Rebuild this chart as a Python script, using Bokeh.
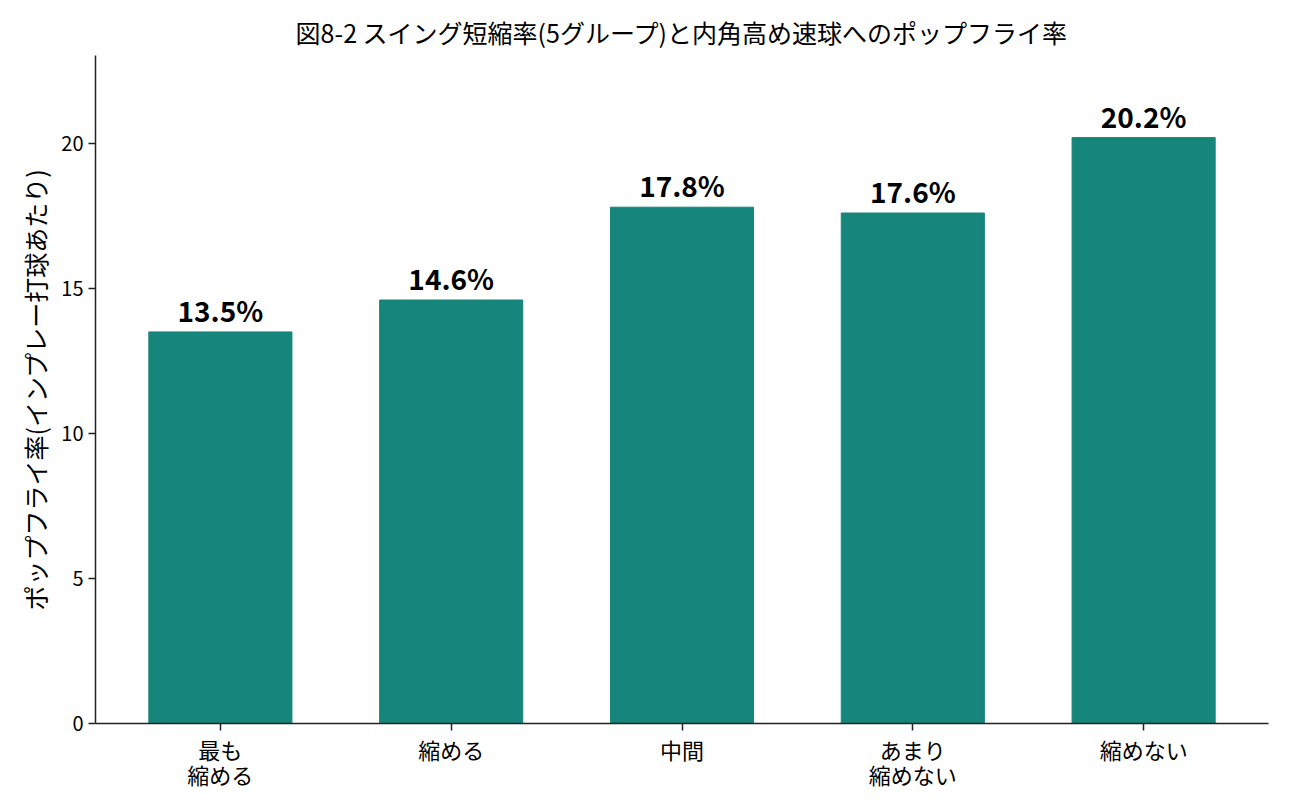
from bokeh.plotting import figure
from bokeh.models import ColumnDataSource, FixedTicker, Range1d
from bokeh.embed import file_html
from bokeh.resources import INLINE
from bokeh.core.properties import value

categories = ["最も\n縮める", "縮める", "中間", "あまり\n縮めない", "縮めない"]
popfly_rate = [13.5, 14.6, 17.8, 17.6, 20.2]
y_ticks = [0, 5, 10, 15, 20]

FONT = "Noto Sans CJK JP"
xs = list(range(len(categories)))
labels = [f"{v:.1f}%" for v in popfly_rate]
src = ColumnDataSource(dict(x=xs, top=popfly_rate, label=labels))

W, H = 1280, 800
p = figure(width=W, height=H, output_backend="svg", toolbar_location=None,
           x_range=Range1d(-0.541, 4.541), y_range=Range1d(0, 23.03),
           min_border_left=95, min_border_right=W - 1268,
           min_border_top=55, min_border_bottom=H - 723)

p.vbar(x="x", top="top", bottom=0, width=0.62, source=src, color="#16857B")
p.text(x="x", y="top", text="label", source=src, text_align="center",
       text_baseline="bottom", y_offset=-2, text_font=value(FONT),
       text_font_style="bold", text_font_size="28px", text_color="black")

p.title.text = "図8-2 スイング短縮率(5グループ)と内角高め速球へのポップフライ率"
p.title.align = "center"
p.title.text_font = FONT
p.title.text_font_size = "25px"
p.title.text_font_style = "normal"
p.title.text_color = "black"
p.title.standoff = 12

p.xgrid.visible = False
p.ygrid.visible = False
p.outline_line_color = None

p.xaxis.ticker = FixedTicker(ticks=xs)
p.xaxis.major_label_overrides = {i: c for i, c in enumerate(categories)}
p.yaxis.ticker = FixedTicker(ticks=y_ticks)
for ax in (p.xaxis, p.yaxis):
    ax.axis_line_color = "#222222"
    ax.axis_line_width = 1.5
    ax.major_tick_line_color = "#222222"
    ax.major_tick_line_width = 1.5
    ax.major_tick_in = 0
    ax.major_tick_out = 7
    ax.minor_tick_line_color = None
    ax.major_label_text_font = FONT
    ax.major_label_text_font_size = "22px"
    ax.major_label_text_color = "black"
p.xaxis.major_label_text_line_height = 0.8
p.xaxis.major_label_standoff = 2
p.yaxis.major_label_text_font_size = "20px"

p.yaxis.axis_label = "ポップフライ率(インプレー打球あたり)"
p.yaxis.axis_label_text_font = FONT
p.yaxis.axis_label_text_font_size = "25px"
p.yaxis.axis_label_text_font_style = "normal"
p.yaxis.axis_label_text_color = "black"

open("out.html", "w").write(file_html(p, INLINE))
